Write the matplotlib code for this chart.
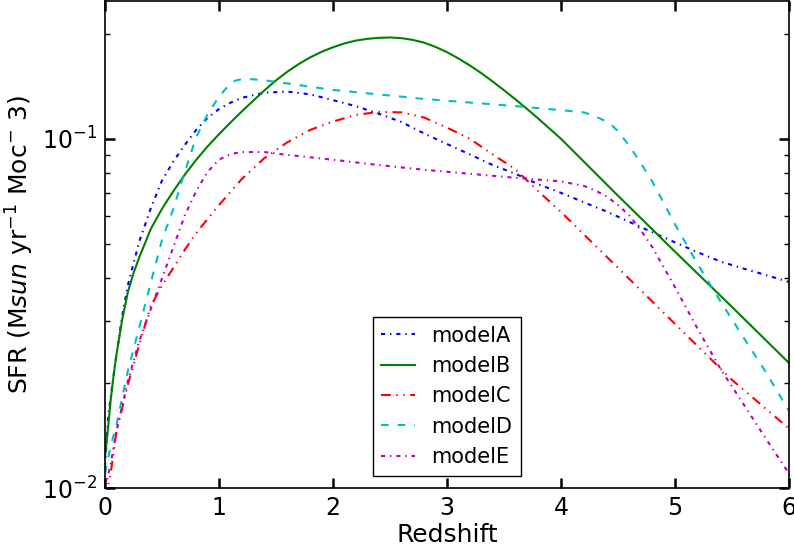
import matplotlib
matplotlib.use("Agg")
import matplotlib.pyplot as plt

# redshift grids and SFR values
z_a = [0, 0.03, 0.07, 0.1, 0.15, 0.2, 0.3, 0.4, 0.5, 0.6, 0.7, 0.8, 0.9, 1.0, 1.1, 1.2,
       1.4, 1.6, 1.8, 2.0, 2.2, 2.4, 2.6, 2.8, 3.0, 3.2, 3.4, 3.6, 3.8, 4.0, 4.2, 4.4,
       4.6, 4.8, 5.0, 5.2, 5.4, 5.6, 5.8, 6.0]
sfr_a = [0.0115, 0.0162, 0.0204, 0.024, 0.0309, 0.038, 0.0507, 0.063, 0.0759, 0.0861,
         0.096, 0.106, 0.1148, 0.1216, 0.1268, 0.131, 0.1355, 0.1365, 0.134, 0.129, 0.124,
         0.118, 0.1117, 0.1035, 0.0966, 0.0902, 0.0841, 0.0794, 0.0741, 0.070, 0.0658,
         0.0619, 0.0578, 0.054, 0.0505, 0.0473, 0.0445, 0.0425, 0.0407, 0.0389]

z_b = [0, 0.02, 0.05, 0.075, 0.1, 0.15, 0.2, 0.25, 0.3, 0.35, 0.4, 0.45, 0.5, 0.55, 0.6,
       0.7, 0.8, 0.9, 1.0, 1.1, 1.2, 1.3, 1.4, 1.5, 1.6, 1.7, 1.8, 1.9, 2.0, 2.1, 2.2,
       2.3, 2.4, 2.5, 2.6, 2.7, 2.8, 2.9, 3.0, 3.1, 3.2, 3.3, 3.4, 3.5, 3.6, 3.7, 3.8,
       3.9, 4.0, 4.5, 5.0, 5.5, 6.0]
sfr_b = [0.0123, 0.0141, 0.0178, 0.0209, 0.024, 0.0302, 0.0363, 0.0412, 0.0457, 0.0501,
         0.055, 0.0589, 0.063, 0.0668, 0.0708, 0.0789, 0.087, 0.0951, 0.103, 0.1112,
         0.1197, 0.1285, 0.1377, 0.1469, 0.1556, 0.1637, 0.171, 0.1774, 0.1828, 0.1875,
         0.191, 0.1932, 0.1945, 0.195, 0.1941, 0.1919, 0.1884, 0.1832, 0.177, 0.1698,
         0.1622, 0.1542, 0.1459, 0.1377, 0.1297, 0.1219, 0.1143, 0.1069, 0.100, 0.0687,
         0.0475, 0.033, 0.0228]

z_c = [0, 0.05, 0.1, 0.2, 0.3, 0.4, 0.5, 0.6, 0.7, 0.8, 0.9, 1.0, 1.2, 1.4, 1.6, 1.8,
       2.0, 2.2, 2.4, 2.6, 2.8, 3.0, 3.2, 3.4, 3.6, 3.8, 4.0, 4.5, 5.0, 5.5, 6.0]
sfr_c = [0.0093, 0.011, 0.0145, 0.0197, 0.0257, 0.0331, 0.038, 0.0427, 0.0481, 0.0537,
         0.0589, 0.0646, 0.0767, 0.0881, 0.0977, 0.106, 0.112, 0.117, 0.1194, 0.119,
         0.115, 0.1076, 0.100, 0.0902, 0.0818, 0.0708, 0.0617, 0.0427, 0.0295, 0.0204,
         0.0148]

z_d = [0, 0.05, 0.1, 0.2, 0.3, 0.4, 0.5, 0.6, 0.7, 0.8, 0.9, 1.0, 1.1, 1.15, 1.2, 1.3,
       1.4, 1.6, 2.0, 2.4, 2.8, 3.2, 3.6, 4.0, 4.2, 4.3, 4.4, 4.45, 4.5, 4.6, 4.7, 4.8,
       5.0, 5.2, 5.4, 5.6, 5.8, 6.0]
sfr_d = [0.011, 0.0132, 0.0151, 0.0216, 0.0288, 0.0385, 0.0513, 0.063, 0.0804, 0.101,
         0.1175, 0.132, 0.144, 0.1469, 0.148, 0.148, 0.147, 0.144, 0.138, 0.134, 0.130,
         0.127, 0.124, 0.1208, 0.119, 0.116, 0.112, 0.109, 0.105, 0.0955, 0.0851, 0.0755,
         0.0569, 0.0437, 0.0342, 0.027, 0.0214, 0.0166]

z_e = [0, 0.05, 0.1, 0.2, 0.3, 0.4, 0.5, 0.6, 0.7, 0.8, 0.9, 1.0, 1.1, 1.2, 1.4, 1.6,
       2.0, 2.4, 2.8, 3.2, 3.6, 4.0, 4.2, 4.3, 4.4, 4.5, 4.6, 4.7, 4.8, 5.0, 5.2, 5.4,
       5.6, 5.8, 6.0]
sfr_e = [0.0100, 0.0117, 0.0145, 0.0202, 0.0263, 0.0324, 0.0398, 0.049, 0.0603, 0.0708,
         0.0804, 0.0871, 0.0904, 0.0916, 0.0916, 0.0899, 0.0871, 0.0841, 0.0815, 0.0794,
         0.0773, 0.0755, 0.0733, 0.0711, 0.0684, 0.0646, 0.0603, 0.0547, 0.049, 0.0376,
         0.0285, 0.0219, 0.0174, 0.0138, 0.011]

labels = ["modelA", "modelB", "modelC", "modelD", "modelE"]
x_ticks = [0, 1, 2, 3, 4, 5, 6]

plt.rcParams['lines.scale_dashes'] = False
plt.rcParams['xtick.direction'] = 'in'
plt.rcParams['ytick.direction'] = 'in'
plt.rcParams['xtick.top'] = True
plt.rcParams['ytick.right'] = True
plt.rcParams['xtick.major.size'] = 7
plt.rcParams['ytick.major.size'] = 7
plt.rcParams['xtick.major.width'] = 1.8
plt.rcParams['ytick.major.width'] = 1.8
plt.rcParams['ytick.minor.size'] = 3.5
plt.rcParams['ytick.minor.width'] = 1
plt.rcParams['axes.linewidth'] = 1.2
plt.rcParams['mathtext.default'] = 'regular'

fig = plt.figure(figsize=(7.94, 5.54), dpi=100)
ax = fig.add_axes([0.1322, 0.1191, 0.8615, 0.8791])

lw = 1.5
ax.plot(z_a, sfr_a, color='#0000ff', lw=lw, dashes=(3, 3.5, 1, 3.5), label=labels[0])
ax.plot(z_b, sfr_b, color='#008000', lw=lw, label=labels[1])
ax.plot(z_c, sfr_c, color='#ff0000', lw=lw, dashes=(7, 4, 1, 4, 1, 4), label=labels[2])
ax.plot(z_d, sfr_d, color='#00bfbf', lw=lw, dashes=(5.5, 6.5), label=labels[3])
ax.plot(z_e, sfr_e, color='#bf00bf', lw=lw, dashes=(3, 3.5, 1, 3.5), label=labels[4])

ax.set_yscale('log')
ax.set_xlim(0, 6)
ax.set_ylim(0.01, 0.248)
ax.set_xticks(x_ticks)
ax.set_xticklabels([str(t) for t in x_ticks])
ax.tick_params(axis='both', which='major', labelsize=17, pad=6)
ax.tick_params(axis='y', which='minor', labelleft=False)

ax.set_xlabel("Redshift", fontsize=18, labelpad=2)
ax.set_ylabel("SFR (M$\\mathit{sun}$ yr$^{-1}$ Moc$^{-}$ 3)", fontsize=18, labelpad=4)

leg = ax.legend(loc='lower center', fontsize=15, handlelength=1.6, fancybox=False,
                framealpha=1, edgecolor='black', borderaxespad=0.6, labelspacing=0.5)
leg.get_frame().set_linewidth(1.0)

fig.savefig("out.png", dpi=100)
